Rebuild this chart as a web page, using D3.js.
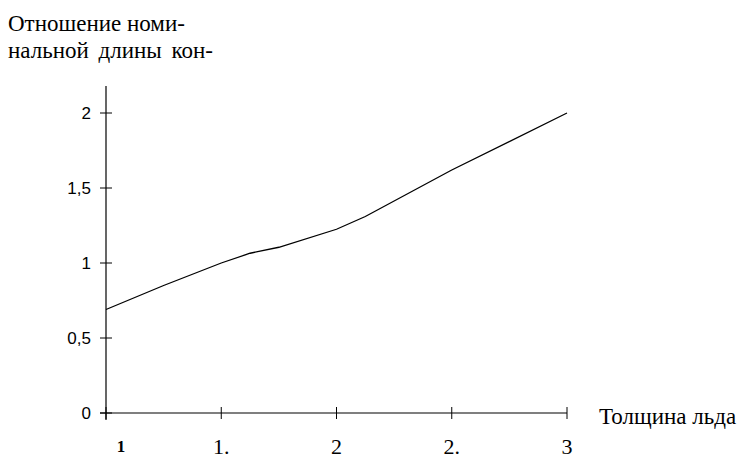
<!DOCTYPE html>
<html>
<head>
<meta charset="utf-8">
<script src="https://cdn.jsdelivr.net/npm/d3@7"></script>
<style>
  body { margin: 0; background: #fff; }
  svg { display: block; }
</style>
</head>
<body>
<svg id="chart" width="742" height="462"></svg>
<script>
// ice thickness vs ratio
var thickness = [1, 1.25, 1.5, 1.625, 1.75, 2, 2.125, 2.5, 3];
var ratio = [0.69, 0.85, 1.0, 1.065, 1.105, 1.225, 1.31, 1.62, 2.0];

var xTicks = [1, 1.5, 2, 2.5, 3];
var xTickLabels = ["1", "1.", "2", "2.", "3"];
var yTicks = [0, 0.5, 1, 1.5, 2];
var yTickLabels = ["0", "0,5", "1", "1,5", "2"];

var titleLines = ["Отношение номи-", "нальной длины кон-"];
var xTitle = "Толщина льда";

var serif = "'Liberation Serif', 'Times New Roman', serif";
var sans = "'Liberation Sans', Arial, sans-serif";

var svg = d3.select("#chart");

var x = d3.scaleLinear().domain([1, 3]).range([106, 567]);
var y = d3.scaleLinear().domain([0, 2]).range([413, 113]);

// y axis
svg.append("line")
	.attr("x1", x(1)).attr("x2", x(1))
	.attr("y1", 86).attr("y2", 420)
	.attr("stroke", "#000").attr("stroke-width", 1.2);

svg.selectAll(".ytick")
	.data(yTicks)
	.enter().append("line")
	.attr("x1", x(1) - 6).attr("x2", x(1) + 6)
	.attr("y1", function(d){ return y(d); })
	.attr("y2", function(d){ return y(d); })
	.attr("stroke", "#000");

svg.selectAll(".ylab")
	.data(yTicks)
	.enter().append("text")
	.attr("x", 91)
	.attr("y", function(d){ return y(d); })
	.attr("dy", "0.36em")
	.attr("text-anchor", "end")
	.attr("font-family", sans)
	.attr("font-size", 17)
	.text(function(d, i){ return yTickLabels[i]; });

// x axis
svg.append("line")
	.attr("x1", x(1) - 6).attr("x2", x(3))
	.attr("y1", y(0)).attr("y2", y(0))
	.attr("stroke", "#000").attr("stroke-width", 1.2);

svg.selectAll(".xtick")
	.data(xTicks)
	.enter().append("line")
	.attr("x1", function(d){ return x(d); })
	.attr("x2", function(d){ return x(d); })
	.attr("y1", y(0) - 6).attr("y2", y(0) + 6)
	.attr("stroke", "#000");

svg.selectAll(".xlab")
	.data(xTicks)
	.enter().append("text")
	.attr("x", function(d, i){ return i == 0 ? x(d) + 15 : x(d); })
	.attr("y", function(d, i){ return i == 0 ? 452 : 454; })
	.attr("text-anchor", "middle")
	.attr("font-family", serif)
	.attr("font-weight", function(d, i){ return i == 0 ? "bold" : "normal"; })
	.attr("font-size", function(d, i){ return i == 0 ? 17 : 22; })
	.text(function(d, i){ return xTickLabels[i]; });

// line
var line = d3.line()
	.x(function(d){ return x(d[0]); })
	.y(function(d){ return y(d[1]); });

svg.append("path")
	.datum(d3.zip(thickness, ratio))
	.attr("fill", "none")
	.attr("stroke", "#000")
	.attr("stroke-width", 1.3)
	.attr("d", line);

// titles
svg.selectAll(".title")
	.data(titleLines)
	.enter().append("text")
	.attr("x", 8)
	.attr("y", function(d, i){ return 31 + i * 27; })
	.attr("font-family", serif)
	.attr("font-size", 23)
	.attr("word-spacing", function(d, i){ return i == 1 ? 4 : 0; })
	.text(function(d){ return d; });

svg.append("text")
	.attr("x", 599)
	.attr("y", 424)
	.attr("font-family", serif)
	.attr("font-size", 23)
	.text(xTitle);
</script>
</body>
</html>
